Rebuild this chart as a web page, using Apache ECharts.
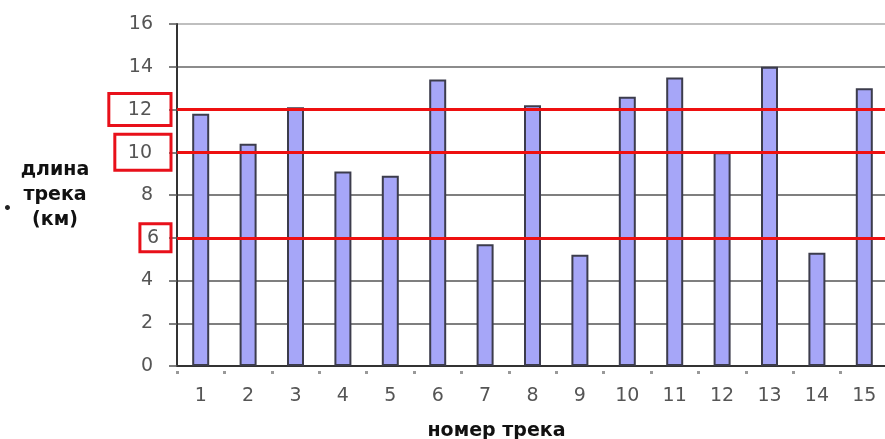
<!DOCTYPE html>
<html><head><meta charset="utf-8">
<script src="https://cdn.jsdelivr.net/npm/echarts@6/dist/echarts.min.js"></script>
<style>html,body{margin:0;padding:0;background:#fff}#c{width:885px;height:439px}</style>
</head><body><div id="c"></div>
<script>
const categories = ['1','2','3','4','5','6','7','8','9','10','11','12','13','14','15'];
const trackLength = [11.8, 10.4, 12.1, 9.1, 8.9, 13.4, 5.7, 12.2, 5.2, 12.6, 13.5, 10.0, 14.0, 5.3, 13.0];
const refLevels = [12, 10, 6];
const yTicks = [0, 2, 4, 6, 8, 10, 12, 14, 16];
const xTitle = 'номер трека';
const yTitle = 'длина\nтрека\n(км)';

const chart = echarts.init(document.getElementById('c'));
const boxStyles = {
  b12: {padding: [7, 19, 6, 19]},
  b10: {padding: [9, 19, 8, 13]},
  b6: {padding: [5, 12, 4, 7]}
};
const rich = {
  p: {fontFamily: 'DejaVu Sans', fontSize: 19, color: '#555', padding: [0, 18, 0, 0]}
};
Object.keys(boxStyles).forEach(k => {
  rich[k] = Object.assign({fontFamily: 'DejaVu Sans', fontSize: 19, color: '#555',
    borderColor: '#e8101a', borderWidth: 3}, boxStyles[k]);
});
chart.setOption({
  backgroundColor: '#fff',
  animation: false,
  grid: {left: 177, right: -3, top: 24, bottom: 73, containLabel: false, outerBoundsMode: 'none'},
  graphic: [{type: 'text', left: 3, top: 202, style: {text: '•', font: 'bold 14px DejaVu Sans', fill: '#222'}}],
  xAxis: {
    type: 'category', data: categories,
    name: xTitle, nameLocation: 'middle', nameGap: 56,
    nameTextStyle: {fontFamily: 'DejaVu Sans', fontWeight: 'bold', fontSize: 19, color: '#111', padding: [0, 72, 0, 0]},
    axisLine: {lineStyle: {color: '#333', width: 2}},
    axisTick: {show: true, length: 9, lineStyle: {color: '#999', width: 3, type: [0.01, 5, 3, 20]}},
    axisLabel: {fontFamily: 'DejaVu Sans', fontSize: 19, color: '#555', margin: 21}
  },
  yAxis: {
    type: 'value', min: 0, max: 16, interval: 2,
    name: yTitle, nameLocation: 'middle', nameGap: 122, nameRotate: 0,
    nameTextStyle: {fontFamily: 'DejaVu Sans', fontWeight: 'bold', fontSize: 19, color: '#111', align: 'center', lineHeight: 25, padding: [4, 0, 0, 0]},
    axisLine: {show: true, lineStyle: {color: '#333', width: 2}},
    axisTick: {show: true, length: 8, lineStyle: {color: '#555', width: 1.5}},
    splitLine: {lineStyle: {color: ['#555','#555','#555','#555','#555','#555','#555','#666','#aaa'], width: 1.5}},
    axisLabel: {
      margin: 6,
      formatter: v => {
        if (refLevels.indexOf(v) >= 0) return '{b' + v + '|' + v + '}';
        return '{p|' + v + '}';
      },
      rich: rich
    }
  },
  series: [{
    type: 'bar', data: trackLength, barWidth: 17,
    itemStyle: {color: '#a6a6f8', borderColor: '#3c3c4c', borderWidth: 2},
    markLine: {
      silent: true, symbol: 'none', label: {show: false},
      lineStyle: {color: '#ee1010', width: 3, type: 'solid'},
      data: refLevels.map(v => ({yAxis: v}))
    }
  }]
});
</script></body></html>
